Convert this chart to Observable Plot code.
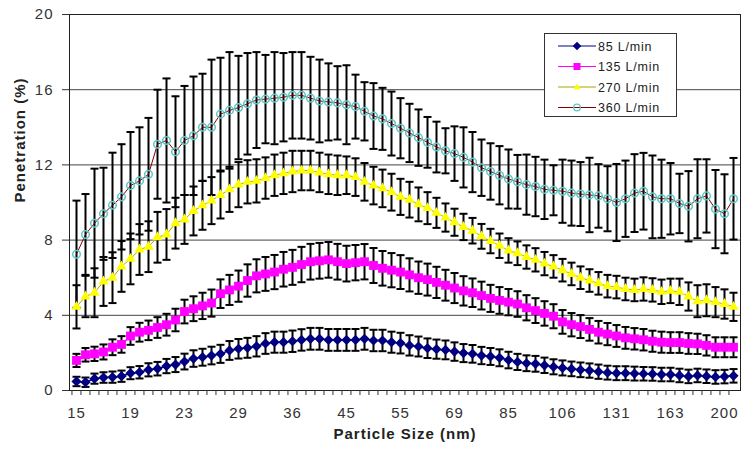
<!DOCTYPE html>
<html><head><meta charset="utf-8">
<script src="https://cdn.jsdelivr.net/npm/d3@7"></script>
<script src="https://cdn.jsdelivr.net/npm/@observablehq/plot@0.6"></script>
<style>
body{margin:0;background:#fff;}
#wrap{position:relative;width:747px;height:450px;font-family:"Liberation Sans",Arial,sans-serif;}
#legend{position:absolute;left:544px;top:33px;width:133px;height:84px;border:1px solid #333;background:#fff;box-sizing:border-box;}
</style>
</head><body><div id="wrap"></div>
<script>
// Particle size categories (nm), SMPS channels
const categories = [15.1,15.7,16.3,16.8,17.5,18.1,18.8,19.5,20.2,20.9,21.7,22.5,23.3,24.1,25.0,25.9,26.9,27.9,28.9,30.0,31.1,32.2,33.4,34.6,35.9,37.2,38.5,40.0,41.4,42.9,44.5,46.1,47.8,49.6,51.4,53.3,55.2,57.3,59.4,61.5,63.8,66.1,68.5,71.0,73.7,76.4,79.1,82.0,85.1,88.2,91.4,94.7,98.2,101.8,105.5,109.4,113.4,117.6,121.9,126.3,131.0,135.8,140.7,145.9,151.2,156.8,162.5,168.5,174.7,181.1,187.7,194.6,201.7,209.1];
const tickCategories = [15.1,18.8,23.3,28.9,35.9,44.5,55.2,68.5,85.1,105.5,131.0,162.5,201.7];
const tickLabels = ["15","19","23","29","36","45","55","69","85","106","131","163","200"];
const yTicks = [0,4,8,12,16,20];
const seriesNames = ["85 L/min","135 L/min","270 L/min","360 L/min"];

const pen85 = [0.48,0.44,0.63,0.69,0.71,0.76,0.92,0.97,1.1,1.16,1.3,1.38,1.54,1.7,1.77,1.86,1.95,2.13,2.22,2.27,
 2.35,2.5,2.57,2.57,2.62,2.69,2.75,2.75,2.69,2.69,2.69,2.69,2.75,2.66,2.66,2.57,2.52,2.4,2.34,2.25,2.2,2.16,2.07,1.99,1.95,1.86,1.81,
 1.74,1.62,1.52,1.45,1.42,1.34,1.26,1.2,1.15,1.1,1.06,1.0,0.95,0.92,0.92,0.9,0.89,0.88,0.85,0.85,0.8,0.75,0.8,0.76,0.72,0.74,0.78];
const err85 = [0.25,0.25,0.27,0.28,0.3,0.3,0.32,0.33,0.35,0.36,0.38,0.4,0.42,0.44,0.45,0.47,0.48,0.5,0.52,0.53,
 0.54,0.55,0.56,0.56,0.57,0.57,0.58,0.58,0.58,0.58,0.58,0.58,0.58,0.57,0.57,0.56,0.55,0.54,0.53,0.52,0.51,0.5,0.49,0.48,0.47,0.46,0.45,
 0.45,0.44,0.43,0.42,0.42,0.41,0.4,0.4,0.39,0.39,0.38,0.38,0.37,0.37,0.37,0.37,0.36,0.36,0.36,0.36,0.36,0.36,0.36,0.36,0.36,0.36,0.36];

const pen135 = [1.6,1.9,1.95,2.05,2.3,2.45,2.9,3.1,3.2,3.35,3.5,3.75,4.2,4.35,4.5,4.65,5.15,5.35,5.55,5.85,
 6.1,6.2,6.3,6.45,6.55,6.7,6.85,6.9,6.95,6.85,6.75,6.8,6.85,6.65,6.5,6.4,6.3,6.15,6.0,5.9,5.75,5.6,5.45,5.3,5.2,5.05,4.9,
 4.79,4.7,4.6,4.4,4.25,4.1,3.95,3.65,3.5,3.4,3.25,3.1,3.0,2.9,2.8,2.75,2.7,2.62,2.57,2.55,2.55,2.5,2.48,2.4,2.3,2.3,2.3];
const err135 = [0.35,0.36,0.38,0.4,0.42,0.44,0.47,0.5,0.52,0.55,0.58,0.6,0.63,0.66,0.7,0.72,0.76,0.8,0.83,0.86,
 0.88,0.9,0.91,0.92,0.93,0.94,0.95,0.95,0.95,0.95,0.95,0.94,0.94,0.93,0.92,0.91,0.9,0.88,0.86,0.85,0.83,0.82,0.8,0.78,0.76,0.74,0.72,
 0.71,0.7,0.68,0.67,0.66,0.65,0.64,0.63,0.62,0.61,0.6,0.6,0.59,0.58,0.58,0.57,0.57,0.56,0.56,0.55,0.55,0.55,0.54,0.54,0.53,0.53,0.53];

const pen270 = [4.45,5.0,5.2,5.8,6.0,6.6,7.0,7.5,7.65,8.15,8.3,8.9,9.1,9.55,9.85,10.1,10.4,10.7,10.95,11.1,
 11.15,11.3,11.45,11.55,11.65,11.7,11.7,11.6,11.5,11.45,11.45,11.35,11.1,10.9,10.75,10.55,10.3,10.15,9.9,9.7,9.45,9.2,8.95,8.7,8.5,8.2,7.95,
 7.7,7.45,7.3,7.1,6.95,6.75,6.6,6.4,6.2,6.0,5.85,5.7,5.55,5.5,5.4,5.35,5.4,5.35,5.25,5.3,5.25,5.0,4.75,4.8,4.7,4.6,4.45];
const err270 = [1.15,1.1,1.3,1.3,1.35,1.35,1.35,1.35,1.35,1.35,1.35,1.35,1.3,1.3,1.3,1.25,1.25,1.2,1.2,1.15,
 1.15,1.1,1.1,1.1,1.1,1.05,1.05,1.05,1.05,1.05,1.0,1.0,1.0,1.0,1.0,0.98,0.96,0.95,0.9,0.85,0.8,0.75,0.72,0.7,0.68,0.66,0.65,
 0.65,0.65,0.63,0.62,0.62,0.62,0.6,0.6,0.6,0.6,0.6,0.6,0.6,0.6,0.6,0.6,0.62,0.62,0.65,0.65,0.7,0.75,0.85,0.85,0.8,0.78,0.75];

const pen360 = [7.25,8.3,8.9,9.4,9.85,10.3,10.9,11.15,11.5,13.1,13.3,12.7,13.3,13.55,14.0,14.0,14.7,14.9,15.05,15.25,
 15.45,15.5,15.55,15.6,15.7,15.7,15.55,15.4,15.35,15.3,15.2,15.1,14.85,14.6,14.45,14.2,13.95,13.7,13.45,13.2,12.95,12.75,12.6,12.4,12.15,11.85,11.65,
 11.45,11.25,11.1,10.95,10.85,10.7,10.65,10.6,10.5,10.45,10.4,10.35,10.2,10.0,10.2,10.5,10.6,10.3,10.2,10.2,9.95,9.8,10.2,10.35,9.65,9.4,10.2];
const err360 = [2.85,2.15,2.9,2.45,2.8,2.8,2.85,2.85,3.0,2.9,3.3,2.95,2.9,3.15,2.85,3.6,3.0,3.1,2.75,2.7,
 2.55,2.35,2.45,2.35,2.3,2.3,2.2,2.2,2.05,1.95,2.1,1.7,1.55,1.75,1.65,1.7,1.6,1.55,1.5,1.35,1.35,1.2,1.45,1.6,1.6,1.5,1.5,
 1.55,1.57,1.43,1.6,1.58,1.58,1.33,1.68,1.73,1.7,1.98,1.69,1.73,2.05,2.03,2.07,2.04,2.2,2.08,1.9,1.58,1.87,2.1,1.95,2.08,2.1,2.17];

function rows(vals, errs) {
  return categories.map((c, i) => ({x: c, y: vals[i], lo: vals[i] - errs[i], hi: vals[i] + errs[i]}));
}
const d85 = rows(pen85, err85), d135 = rows(pen135, err135), d270 = rows(pen270, err270), d360 = rows(pen360, err360);
const allRows = [...d85, ...d135, ...d270, ...d360];

const W = 747, H = 450, ML = 69, MR = 7, MT = 14, MB = 60;
const step = (W - ML - MR) / categories.length;
const cap = {draw(ctx) { ctx.moveTo(-4, 0); ctx.lineTo(4, 0); }};

const chart = Plot.plot({
  width: W, height: H, marginLeft: ML, marginRight: MR, marginTop: MT, marginBottom: MB,
  style: {fontFamily: "'Liberation Sans', Arial, sans-serif", fontSize: "15px", letterSpacing: "1px", background: "#fff", color: "#222"},
  x: {type: "point", domain: categories, padding: 0.5, axis: null},
  y: {domain: [0, 20], axis: null},
  marks: [
    Plot.ruleY(yTicks.slice(1), {stroke: "#444", strokeWidth: 1}),
    Plot.frame({stroke: "#222", strokeWidth: 1}),
    Plot.axisY(yTicks, {tickSize: 7, tickPadding: 9, label: null, color: "#333", fontSize: 15}),
    Plot.axisX(categories, {tickSize: 5, tickFormat: () => "", dx: -step / 2, label: null, stroke: "#333"}),
    Plot.axisX(tickCategories, {tickSize: 0, tickPadding: 17, label: null, fill: "#333", fontSize: 15,
      tickFormat: d => tickLabels[tickCategories.indexOf(d)]}),
    Plot.text(["Penetration (%)"], {frameAnchor: "left", rotate: -90, dx: -49, fontWeight: "bold", fontSize: 15, fill: "#222"}),
    Plot.text(["Particle Size (nm)"], {frameAnchor: "bottom", dy: 48, fontWeight: "bold", fontSize: 15, fill: "#222"}),
    // error bars
    Plot.ruleX(allRows, {x: "x", y1: "lo", y2: "hi", stroke: "#000", strokeWidth: 2}),
    Plot.dot(allRows, {x: "x", y: "hi", symbol: cap, r: 4, stroke: "#000", strokeWidth: 2}),
    Plot.dot(allRows, {x: "x", y: "lo", symbol: cap, r: 4, stroke: "#000", strokeWidth: 2}),
    // series
    Plot.line(d85, {x: "x", y: "y", stroke: "#000080", strokeWidth: 1.5}),
    Plot.dot(d85, {x: "x", y: "y", symbol: "diamond2", r: 4.6, fill: "#000080"}),
    Plot.line(d135, {x: "x", y: "y", stroke: "#ff00ff", strokeWidth: 1.5}),
    Plot.dot(d135, {x: "x", y: "y", symbol: "square", r: 5, fill: "#ff00ff"}),
    Plot.line(d270, {x: "x", y: "y", stroke: "#a8a800", strokeWidth: 1}),
    Plot.dot(d270, {x: "x", y: "y", symbol: "triangle", r: 3.8, fill: "#ffff00"}),
    Plot.line(d360, {x: "x", y: "y", stroke: "#800000", strokeWidth: 1}),
    Plot.dot(d360, {x: "x", y: "y", symbol: "circle", r: 3.8, fill: "none", stroke: "#5cc8c8", strokeWidth: 1.5})
  ]
});
const wrap = document.getElementById("wrap");
wrap.append(chart);

// legend
const legendColors = ["#000080", "#ff00ff", "#a8a800", "#800000"];
const ys = [12, 32.5, 53, 73.5];
function marker(i, y) {
  if (i === 0) return `<path d="M32,${y-4.3}L36.3,${y}L32,${y+4.3}L27.7,${y}Z" fill="#000080"/>`;
  if (i === 1) return `<rect x="28.5" y="${y-3.5}" width="7" height="7" fill="#ff00ff"/>`;
  if (i === 2) return `<path d="M32,${y-3.5}L35.5,${y+2.5}L28.5,${y+2.5}Z" fill="#ffff00"/>`;
  return `<circle cx="32" cy="${y}" r="3.3" fill="none" stroke="#5cc8c8" stroke-width="1.3"/>`;
}
let svg = `<svg width="131" height="82" style="position:absolute;left:0;top:0;font-family:'Liberation Sans',Arial,sans-serif">`;
seriesNames.forEach((n, i) => {
  const y = ys[i];
  svg += `<line x1="13" x2="51" y1="${y}" y2="${y}" stroke="${legendColors[i]}" stroke-width="1"/>`;
  svg += marker(i, y);
  svg += `<text x="53" y="${y + 4.5}" font-size="12.5" letter-spacing="0.8" fill="#222">${n}</text>`;
});
svg += `</svg>`;
const lg = document.createElement("div");
lg.id = "legend";
lg.innerHTML = svg;
wrap.append(lg);
</script>
</body></html>
